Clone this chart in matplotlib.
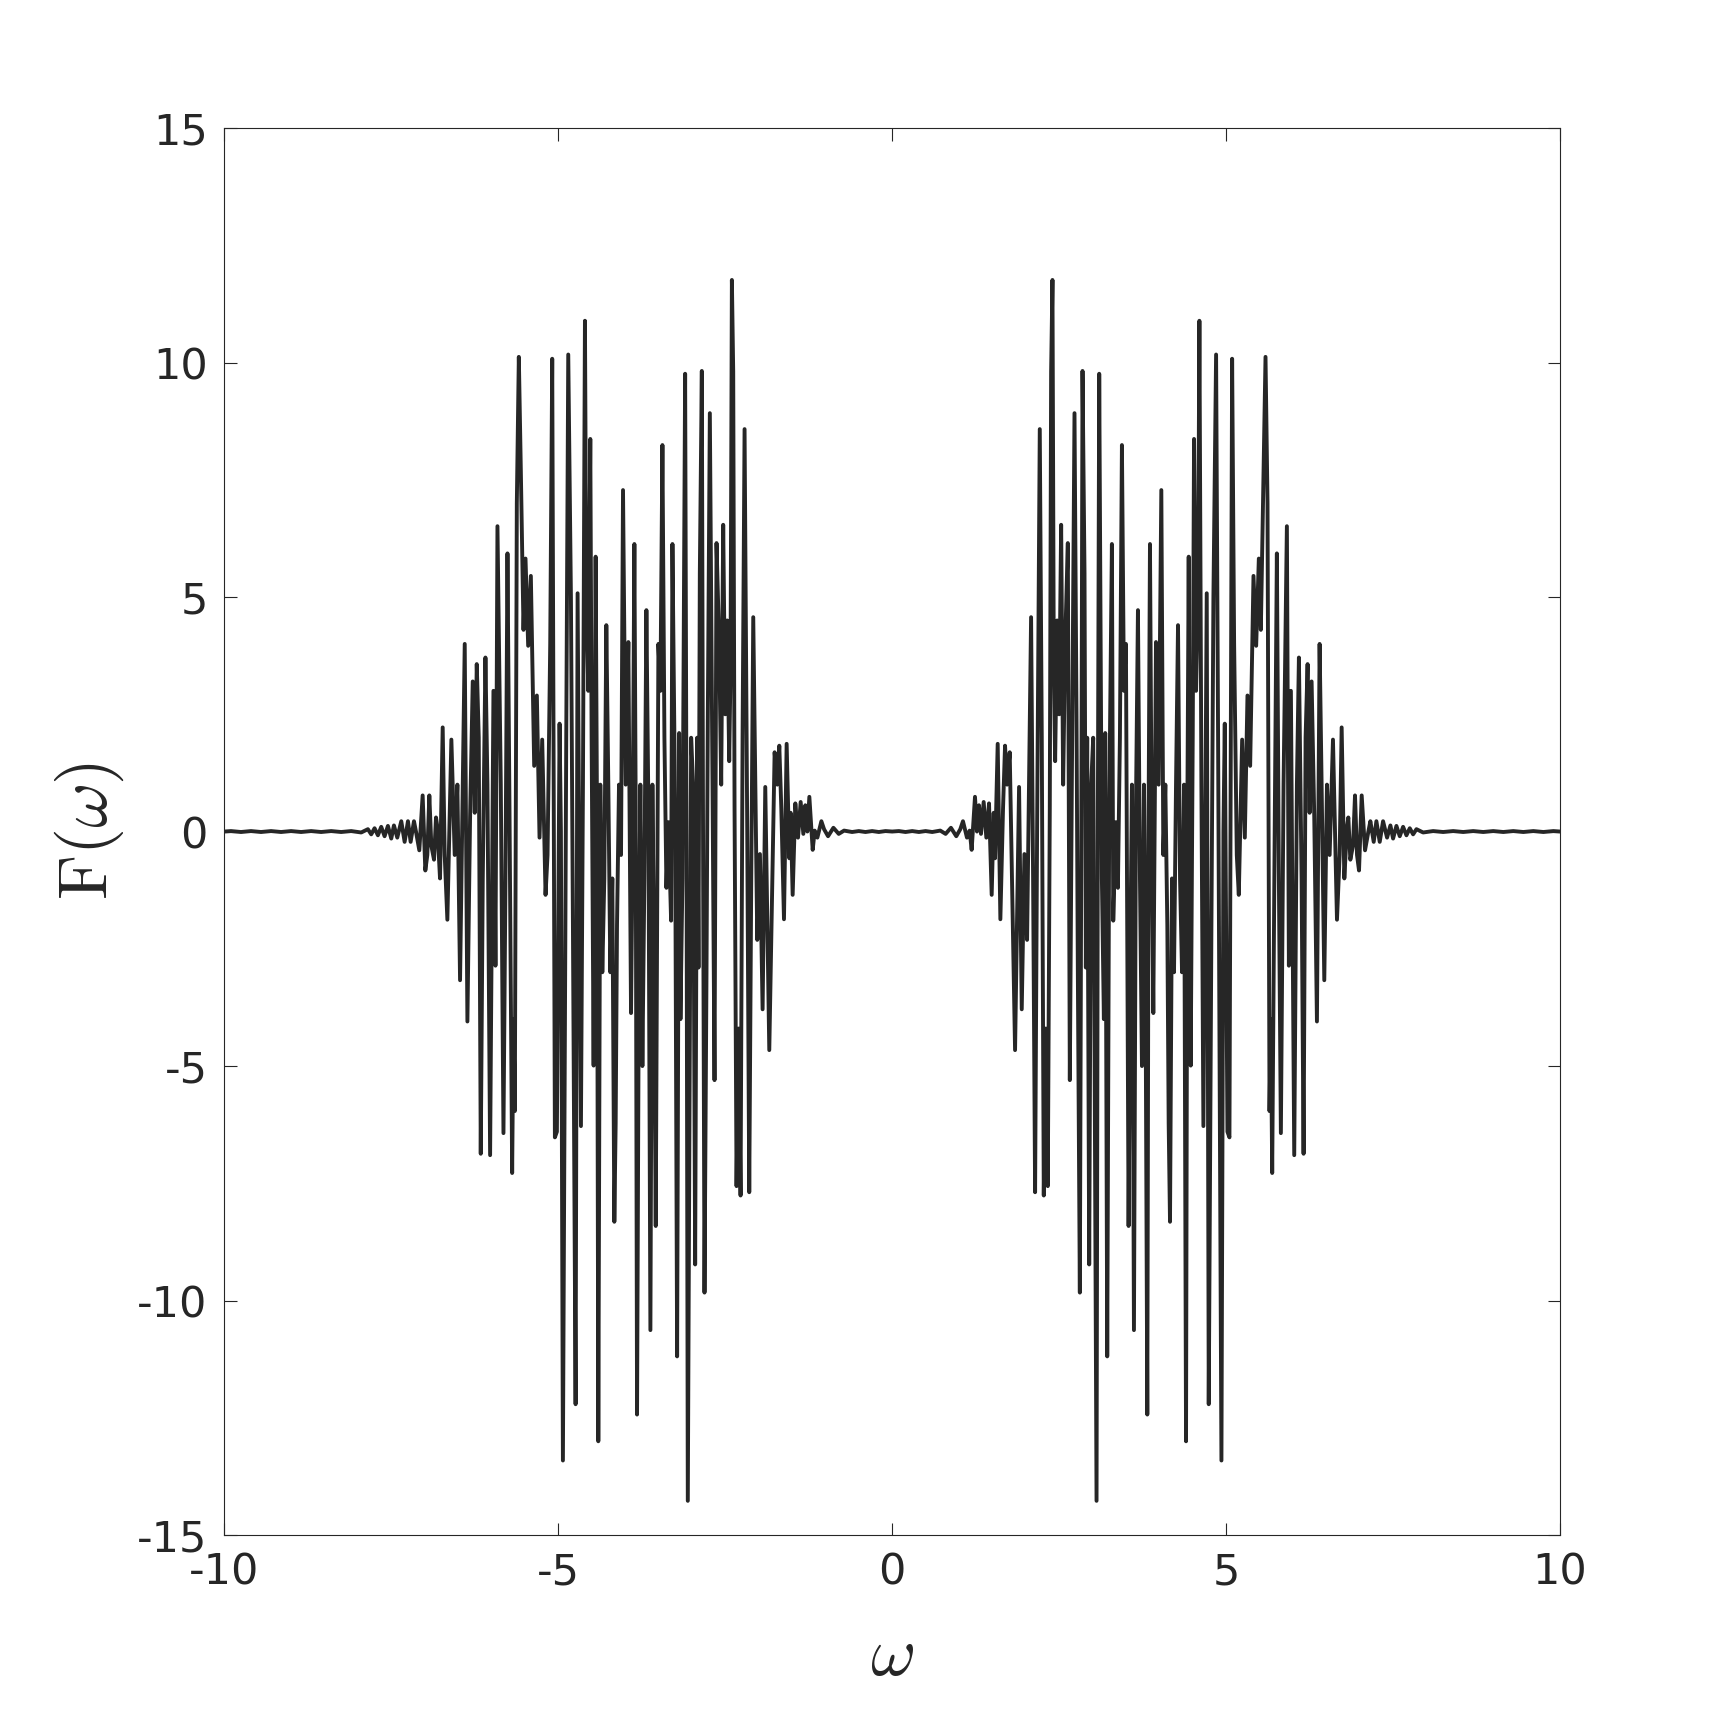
import numpy as np
import matplotlib
matplotlib.use("Agg")
import matplotlib.pyplot as plt

# valores leidos para w >= 0 (la curva es simetrica en w)
w_right = [0.00, 0.10, 0.20, 0.30, 0.40, 0.50, 0.60, 0.72, 0.80, 0.88,
           0.96, 1.02, 1.06, 1.12, 1.16, 1.19, 1.24, 1.27, 1.30, 1.33,
           1.37, 1.41, 1.45, 1.49, 1.52, 1.54, 1.58, 1.62, 1.66, 1.69,
           1.72, 1.76, 1.80, 1.84, 1.90, 1.94, 1.98, 2.02, 2.05, 2.08,
           2.11, 2.14, 2.17, 2.21, 2.24, 2.27, 2.30, 2.33, 2.36, 2.38,
           2.40, 2.42, 2.44, 2.47, 2.50, 2.53, 2.56, 2.59, 2.63, 2.66,
           2.69, 2.73, 2.76, 2.78, 2.81, 2.83, 2.85, 2.88, 2.90, 2.92,
           2.95, 2.98, 3.01, 3.06, 3.08, 3.10, 3.14, 3.17, 3.19, 3.22,
           3.25, 3.29, 3.31, 3.35, 3.38, 3.41, 3.44, 3.47, 3.50, 3.54,
           3.57, 3.59, 3.62, 3.65, 3.68, 3.71, 3.74, 3.77, 3.79, 3.82,
           3.84, 3.86, 3.89, 3.91, 3.95, 3.99, 4.03, 4.06, 4.09, 4.12,
           4.14, 4.16, 4.19, 4.22, 4.25, 4.28, 4.31, 4.34, 4.37, 4.40,
           4.42, 4.44, 4.47, 4.50, 4.52, 4.55, 4.58, 4.60, 4.63, 4.66,
           4.69, 4.71, 4.74, 4.78, 4.81, 4.85, 4.88, 4.93, 4.96, 4.98,
           5.02, 5.05, 5.09, 5.12, 5.16, 5.19, 5.24, 5.28, 5.32, 5.36,
           5.41, 5.45, 5.49, 5.52, 5.56, 5.59, 5.62, 5.65, 5.67, 5.69,
           5.73, 5.76, 5.79, 5.82, 5.86, 5.91, 5.94, 5.97, 6.02, 6.06,
           6.09, 6.13, 6.16, 6.19, 6.22, 6.25, 6.28, 6.32, 6.36, 6.40,
           6.43, 6.47, 6.51, 6.55, 6.60, 6.66, 6.70, 6.73, 6.77, 6.81,
           6.83, 6.86, 6.90, 6.93, 6.96, 6.99, 7.03, 7.08, 7.13, 7.16,
           7.21, 7.25, 7.30, 7.35, 7.41, 7.46, 7.50, 7.55, 7.60, 7.65,
           7.70, 7.75, 7.80, 7.85, 7.95, 8.10, 8.25, 8.40, 8.55, 8.70,
           8.85, 9.00, 9.15, 9.30, 9.45, 9.60, 9.75, 9.90, 10.00]

f_right = [0.00, 0.01, -0.01, 0.01, -0.01, 0.01, -0.01, 0.02, -0.05, 0.08,
           -0.10, 0.05, 0.22, -0.13, 0.02, -0.39, 0.74, 0.00, 0.56, -0.05,
           0.63, -0.13, 0.60, -1.35, 0.40, -0.57, 1.87, -1.87, 0.50, 1.83,
           1.00, 1.69, -1.50, -4.66, 0.95, -3.79, -0.48, -2.31, 1.20, 4.57,
           -1.00, -7.69, 0.00, 8.58, 2.00, -7.76, -4.20, -7.56, 0.50, 9.80,
           11.76, 3.50, 1.50, 4.50, 2.50, 6.54, 1.00, 4.00, 6.15, -5.30,
           1.00, 8.92, 2.50, -3.00, -9.83, -1.00, 9.82, 5.50, -2.90, 2.00,
           -9.23, 1.00, 2.00, -14.27, 0.50, 9.76, -1.00, -4.00, 2.10, -11.19,
           0.50, 6.13, -1.90, 0.20, -1.20, 2.00, 8.24, 3.00, 4.00, -8.41,
           -2.00, 1.00, -10.63, 0.50, 4.72, -1.00, -5.00, 1.00, -2.00, -12.43,
           0.50, 6.13, -1.00, -3.87, 4.04, 1.00, 7.28, -0.50, 1.00, -2.00,
           -6.22, -8.32, -1.00, -3.00, 1.00, 4.40, -1.00, -3.00, 1.00, -13.00,
           0.50, 5.86, -4.99, 2.00, 8.37, 3.00, 5.00, 10.89, 1.00, -6.28,
           0.50, 5.08, -12.21, -2.00, 5.00, 10.17, 2.00, -13.41, 0.00, 2.30,
           -6.40, -6.52, 10.08, 4.00, -0.50, -1.35, 1.96, -0.13, 2.90, 1.40,
           5.45, 3.96, 5.82, 4.30, 7.70, 10.12, 7.00, -5.96, -4.00, -7.28,
           0.50, 5.93, -1.00, -6.43, 1.00, 6.51, -2.86, 3.00, -6.90, 1.00,
           3.71, -1.00, -6.87, 2.00, 3.57, 0.40, 3.20, 0.30, -4.05, 4.00,
           1.00, -3.17, 1.00, -0.50, 1.96, -1.88, -0.50, 2.22, -1.00, 0.10,
           0.30, -0.60, -0.30, 0.77, -0.50, -0.83, 0.77, -0.40, 0.00, 0.22,
           -0.22, 0.22, -0.22, 0.22, -0.13, 0.13, -0.15, 0.12, -0.10, 0.10,
           -0.08, 0.07, -0.06, 0.05, -0.02, 0.01, -0.01, 0.01, -0.01, 0.01,
           -0.01, 0.01, -0.01, 0.01, -0.01, 0.01, -0.01, 0.01, 0.00]

x_ticks = [-10, -5, 0, 5, 10]
y_ticks = [-15, -10, -5, 0, 5, 10, 15]

# lado negativo = espejo del positivo
w = np.concatenate([-np.array(w_right[:0:-1]), w_right])
f = np.concatenate([np.array(f_right[:0:-1]), f_right])

plt.rcParams["axes.unicode_minus"] = False
plt.rcParams["mathtext.fontset"] = "cm"

fig = plt.figure(figsize=(17.24, 17.25), dpi=100)
ax = fig.add_axes([0.1301, 0.1101, 0.7748, 0.8157])
ax.plot(w, f, color="#262626", lw=2.8)

ax.set_xlim(-10, 10)
ax.set_ylim(-15, 15)
ax.set_xticks(x_ticks)
ax.set_yticks(y_ticks)
ax.tick_params(direction="in", length=9, width=0.8, top=True, right=True,
               labelsize=31, colors="#262626", pad=12)
for s in ax.spines.values():
    s.set_linewidth(0.8)
    s.set_color("#262626")

ax.set_xlabel(r"$\omega$", fontsize=50, color="#262626", labelpad=20)
ax.set_ylabel(r"$\mathrm{F}(\omega)$", fontsize=50, color="#262626", labelpad=8)

fig.savefig("out.png", dpi=100)
